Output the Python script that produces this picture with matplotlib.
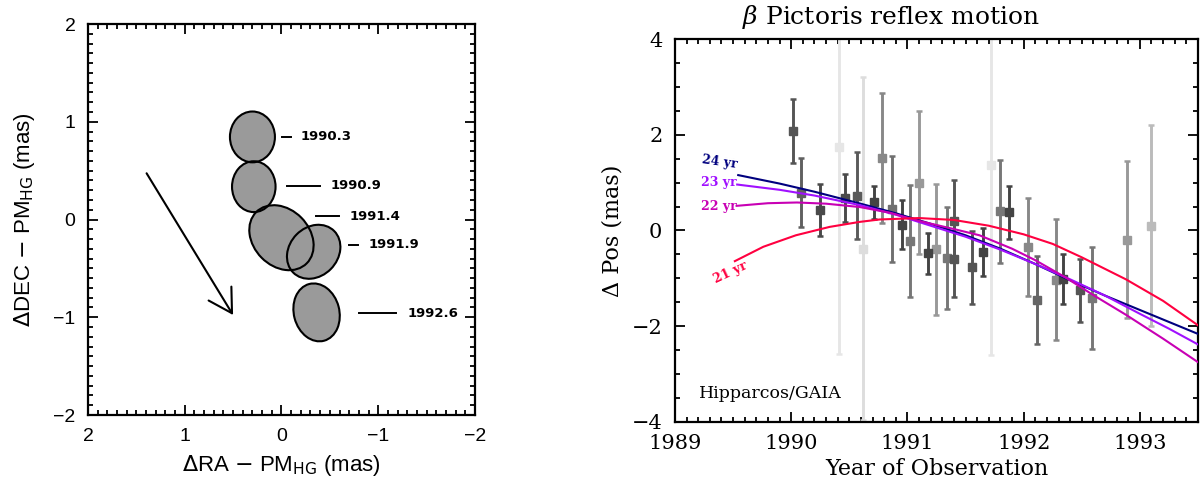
import matplotlib
matplotlib.use('Agg')
import matplotlib.pyplot as plt
from matplotlib.patches import Ellipse
import numpy as np

# ---------------- left panel data (mas) ----------------
ell_labels = ['1990.3', '1990.9', '1991.4', '1991.9', '1992.6']
ell_x = [0.30, 0.286, 0.0, -0.333, -0.363]
ell_y = [0.845, 0.336, -0.186, -0.33, -0.95]
ell_w = [0.465, 0.45, 0.74, 0.60, 0.47]
ell_h = [0.52, 0.52, 0.58, 0.50, 0.60]
ell_ang = [0, 0, 45, 135, -15]
# label leader lines: x start, x end, y ; text x
lead_x0 = [-0.01, -0.057, -0.353, -0.697, -0.797]
lead_x1 = [-0.095, -0.394, -0.593, -0.789, -1.186]
lead_y = [0.845, 0.345, 0.036, -0.26, -0.96]
lab_x = [-0.20, -0.508, -0.704, -0.90, -1.306]
arrow_start = (1.394, 0.473)
arrow_end = (0.50, -0.977)

# ---------------- right panel data ----------------
obs_year = [1990.016, 1990.088, 1990.247, 1990.409, 1990.465, 1990.562, 1990.622,
            1990.714, 1990.785, 1990.863, 1990.951, 1991.023, 1991.103, 1991.18,
            1991.249, 1991.34, 1991.398, 1991.398, 1991.552, 1991.646, 1991.718,
            1991.798, 1991.878, 1992.036, 1992.116, 1992.276, 1992.336, 1992.485,
            1992.585, 1992.886, 1993.097]
obs_pos = [2.08, 0.79, 0.425, 1.74, 0.68, 0.73, -0.377,
           0.585, 1.52, 0.45, 0.125, -0.22, 1.00, -0.48,
           -0.39, -0.57, 0.20, -0.59, -0.77, -0.45, 1.37,
           0.40, 0.38, -0.34, -1.46, -1.03, -1.01, -1.25,
           -1.41, -0.19, 0.10]
obs_err = [0.66, 0.72, 0.54, 4.31, 0.50, 0.90, 3.58,
           0.35, 1.36, 1.10, 0.52, 1.16, 1.50, 0.43,
           1.37, 1.07, 0.85, 0.80, 0.76, 0.50, 3.98,
           1.08, 0.55, 1.02, 0.92, 1.26, 0.52, 0.66,
           1.06, 1.64, 2.10]
obs_gray = ['#555555', '#606060', '#4a4a4a', '#e6e6e6', '#4a4a4a', '#5a5a5a', '#dddddd',
            '#444444', '#888888', '#707070', '#444444', '#777777', '#999999', '#444444',
            '#999999', '#777777', '#555555', '#555555', '#555555', '#444444', '#e6e6e6',
            '#777777', '#444444', '#888888', '#666666', '#888888', '#444444', '#555555',
            '#777777', '#999999', '#bbbbbb']

yr24_t = [1989.544, 1989.9, 1990.2, 1990.59, 1990.9, 1991.2, 1991.5, 1991.8, 1992.1,
          1992.4, 1992.7, 1993.0, 1993.25, 1993.5]
yr24_v = [1.157, 0.98, 0.81, 0.565, 0.36, 0.14, -0.10, -0.38, -0.70,
          -1.04, -1.36, -1.66, -1.91, -2.16]
yr23_t = [1989.535, 1989.9, 1990.2, 1990.59, 1990.9, 1991.2, 1991.5, 1991.8, 1992.1,
          1992.4, 1992.7, 1993.0, 1993.25, 1993.5]
yr23_v = [0.96, 0.85, 0.73, 0.53, 0.33, 0.10, -0.13, -0.40, -0.70,
          -1.02, -1.36, -1.74, -2.05, -2.38]
yr22_t = [1989.53, 1989.8, 1990.05, 1990.3, 1990.59, 1990.85, 1991.1, 1991.4, 1991.62,
          1991.9, 1992.1, 1992.36, 1992.6, 1992.88, 1993.2, 1993.5]
yr22_v = [0.515, 0.57, 0.585, 0.56, 0.49, 0.37, 0.20, 0.03, -0.10,
          -0.38, -0.62, -0.98, -1.35, -1.76, -2.26, -2.75]
yr21_t = [1989.515, 1989.76, 1990.04, 1990.33, 1990.59, 1990.76, 1991.1, 1991.4, 1991.7,
          1992.0, 1992.25, 1992.5, 1992.88, 1993.2, 1993.5]
yr21_v = [-0.64, -0.34, -0.10, 0.075, 0.18, 0.23, 0.26, 0.22, 0.10,
          -0.08, -0.28, -0.56, -1.02, -1.47, -1.98]

curves = [('24 yr', yr24_t, yr24_v, '#00007f', 1989.22, 1.43, -8),
          ('23 yr', yr23_t, yr23_v, '#a010ff', 1989.22, 1.01, 0),
          ('22 yr', yr22_t, yr22_v, '#c800b4', 1989.22, 0.51, 0),
          ('21 yr', yr21_t, yr21_v, '#ff0040', 1989.31, -0.87, 25)]

fig = plt.figure(figsize=(12, 4.9), dpi=100)

# ---------------- left panel ----------------
ax1 = fig.add_axes([0.0733, 0.153, 0.3225, 0.798])
for i in range(len(ell_x)):
    ax1.add_patch(Ellipse((ell_x[i], ell_y[i]), ell_w[i], ell_h[i], angle=ell_ang[i],
                          facecolor='#9a9a9a', edgecolor='none', zorder=2))
for i in range(len(ell_x)):
    ax1.add_patch(Ellipse((ell_x[i], ell_y[i]), ell_w[i], ell_h[i], angle=ell_ang[i],
                          fill=False, edgecolor='black', lw=1.5, zorder=3))
    ax1.plot([lead_x0[i], lead_x1[i]], [lead_y[i], lead_y[i]], color='black', lw=1.4)
    ax1.text(lab_x[i], lead_y[i], ell_labels[i], ha='left', va='center',
             fontsize=9.5, fontweight='bold', family='DejaVu Sans')
ax1.annotate('', xy=arrow_end, xytext=arrow_start,
             arrowprops=dict(arrowstyle='->,head_length=0.83,head_width=0.48',
                             lw=1.5, color='black', mutation_scale=20,
                             shrinkA=0, shrinkB=0))
ax1.set_xlim(2, -2)
ax1.set_ylim(-2, 2)
ax1.set_xticks([2, 1, 0, -1, -2])
ax1.set_yticks([-2, -1, 0, 1, 2])
ax1.set_xticks(np.arange(-2, 2.01, 0.1), minor=True)
ax1.set_yticks(np.arange(-2, 2.01, 0.1), minor=True)
ax1.set_xticklabels(['2', '1', '0', '\u22121', '\u22122'], family='Liberation Sans', fontsize=14)
ax1.set_yticklabels(['\u22122', '\u22121', '0', '1', '2'], family='Liberation Sans', fontsize=14)
ax1.set_xlabel(r'$\Delta$RA $-$ PM$_{\rm HG}$ (mas)', family='Liberation Sans', fontsize=16,
               math_fontfamily='dejavusans', labelpad=6)
ax1.set_ylabel(r'$\Delta$DEC $-$ PM$_{\rm HG}$ (mas)', family='Liberation Sans', fontsize=16,
               math_fontfamily='dejavusans', labelpad=12)

# ---------------- right panel ----------------
ax2 = fig.add_axes([0.5625, 0.1388, 0.4358, 0.7816])
order = np.argsort([-e for e in obs_err])
for i in order:
    ax2.errorbar(obs_year[i], obs_pos[i], yerr=obs_err[i], fmt='s', color=obs_gray[i],
                 ms=6, lw=2.1, capsize=2.3, capthick=1.8, zorder=2)
for lab, t, v, c, lx, ly, rot in curves:
    ax2.plot(t, v, color=c, lw=1.5, zorder=3)
    ax2.text(lx, ly, lab, color=c, fontsize=9, family='DejaVu Serif', fontweight='bold',
             ha='left', va='center', rotation=rot)
ax2.text(1989.21, -3.41, 'Hipparcos/GAIA', fontsize=12.5, family='DejaVu Serif',
         ha='left', va='center')
ax2.set_xlim(1989, 1993.5)
ax2.set_ylim(-4, 4)
ax2.set_xticks([1989, 1990, 1991, 1992, 1993])
ax2.set_xticks(np.arange(1989, 1993.51, 0.1), minor=True)
ax2.set_yticks([-4, -2, 0, 2, 4])
ax2.set_yticks(np.arange(-4, 4.01, 0.5), minor=True)
ax2.set_xticklabels(['1989', '1990', '1991', '1992', '1993'], family='DejaVu Serif', fontsize=15)
ax2.set_yticklabels(['\u22124', '\u22122', '0', '2', '4'], family='DejaVu Serif', fontsize=15)
ax2.set_xlabel('Year of Observation', family='DejaVu Serif', fontsize=16, labelpad=3)
ax2.set_ylabel('\u0394 Pos (mas)', family='DejaVu Serif', fontsize=16, labelpad=6)
ax2.text(1990.86, 4.45, r'$\beta$ Pictoris reflex motion', family='DejaVu Serif', fontsize=18,
         math_fontfamily='dejavuserif', ha='center', va='center', clip_on=False)

for ax in (ax1, ax2):
    ax.tick_params(which='both', direction='in', top=True, right=True, width=1.3)
    ax.tick_params(which='major', length=7, pad=9)
    ax.tick_params(which='minor', length=3.5)
    for s in ax.spines.values():
        s.set_linewidth(1.6)

fig.savefig('out.png', dpi=100)
